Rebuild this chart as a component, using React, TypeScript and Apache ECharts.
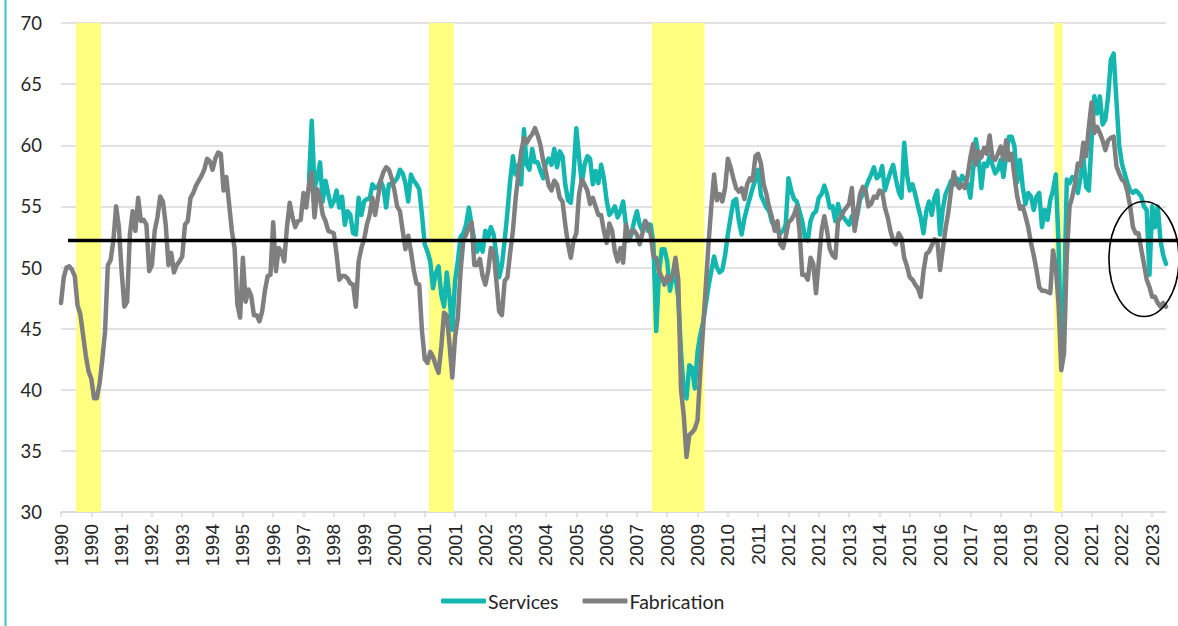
import React, { useEffect, useRef } from "react";
import * as echarts from "echarts";

// ---------- data ----------
const START_YEAR = 1990;
const MONTH_COUNT = 402; // Jan 1990 .. Jun 2023
const categories: string[] = Array.from(
  { length: MONTH_COUNT },
  (_, i) => `${START_YEAR + Math.floor(i / 12)}-${String((i % 12) + 1).padStart(2, "0")}`
);

const fabrication: number[] = [
  // 1990
  47.1, 49.2, 50.0, 50.1, 49.8, 49.3, 46.9, 46.2, 44.5, 42.8, 41.5, 40.9,
  // 1991
  39.3, 39.3, 40.5, 42.5, 44.8, 50.2, 50.6, 52.2, 55.0, 53.3, 49.7, 46.8,
  // 1992
  47.2, 52.7, 54.6, 53.0, 55.7, 53.8, 53.9, 53.5, 49.7, 50.2, 53.0, 54.1,
  // 1993
  55.8, 55.4, 53.5, 50.2, 51.2, 49.6, 50.2, 50.5, 50.9, 53.5, 53.8, 55.7,
  // 1994
  56.1, 56.7, 57.1, 57.5, 58.0, 58.9, 58.7, 58.0, 58.9, 59.4, 59.3, 56.3,
  // 1995
  57.4, 55.2, 53.0, 51.6, 47.0, 45.9, 50.8, 47.2, 48.2, 47.7, 46.1, 46.1,
  // 1996
  45.6, 46.4, 48.1, 49.3, 49.4, 53.7, 49.7, 51.6, 51.3, 50.5, 53.3, 55.3,
  // 1997
  54.1, 53.3, 53.8, 53.9, 56.1, 54.9, 56.8, 57.8, 54.1, 56.4, 55.7, 54.3,
  // 1998
  53.8, 53.0, 52.9, 52.8, 51.1, 49.0, 49.3, 49.3, 49.1, 48.7, 48.6, 46.8,
  // 1999
  50.5, 51.6, 52.3, 53.5, 54.3, 55.7, 54.3, 55.7, 57.1, 57.8, 58.2, 58.0,
  // 2000
  57.3, 56.3, 55.0, 54.6, 53.0, 51.5, 52.6, 51.3, 49.8, 48.7, 48.6, 44.8,
  // 2001
  42.5, 42.2, 43.1, 42.7, 42.0, 41.4, 43.5, 46.3, 46.1, 43.7, 41.0, 44.3,
  // 2002
  45.9, 49.7, 52.2, 52.7, 53.3, 53.7, 50.2, 50.2, 50.7, 49.3, 48.6, 49.7,
  // 2003
  51.6, 51.3, 48.9, 46.4, 46.1, 48.9, 49.2, 51.2, 53.0, 55.7, 57.6, 59.5,
  // 2004
  60.6, 60.2, 60.6, 60.9, 61.4, 60.8, 60.0, 58.7, 57.8, 56.7, 56.3, 57.1,
  // 2005
  56.8, 55.7, 55.4, 53.5, 51.9, 50.8, 52.2, 52.8, 56.0, 57.2, 56.8, 56.3,
  // 2006
  55.2, 55.7, 55.0, 54.3, 54.3, 53.0, 52.0, 53.6, 53.0, 51.3, 50.5, 51.6,
  // 2007
  50.4, 53.5, 52.4, 53.0, 53.0, 52.7, 51.9, 52.8, 53.8, 53.5, 52.7, 50.9,
  // 2008
  50.8, 49.7, 49.2, 48.6, 49.3, 48.9, 49.4, 50.8, 49.0, 40.0, 37.9, 34.5,
  // 2009
  36.3, 36.5, 36.8, 37.5, 41.5, 45.0, 48.5, 52.0, 55.0, 57.6, 55.5, 56.0,
  // 2010
  55.4, 56.5, 58.9, 58.2, 57.3, 56.5, 56.2, 56.5, 55.6, 56.8, 57.3, 57.1,
  // 2011
  59.1, 59.3, 58.5, 56.8, 56.0, 54.9, 54.1, 53.0, 53.8, 51.9, 51.6, 52.5,
  // 2012
  53.7, 53.9, 54.3, 55.0, 53.0, 49.4, 49.4, 49.0, 50.8, 50.3, 47.9, 50.5,
  // 2013
  53.0, 54.2, 53.0, 51.5, 51.0, 50.8, 53.8, 54.1, 54.6, 54.9, 55.2, 56.5,
  // 2014
  53.0, 54.6, 56.0, 56.6, 56.3, 55.0, 55.2, 55.8, 55.7, 56.3, 56.2, 54.9,
  // 2015
  54.1, 53.0, 52.2, 51.9, 52.8, 52.4, 50.8, 50.1, 49.2, 49.0, 48.6, 48.3,
  // 2016
  47.6, 49.7, 51.1, 51.3, 51.8, 52.3, 52.2, 49.8, 51.5, 53.2, 54.5, 56.3,
  // 2017
  57.8, 56.8, 56.5, 56.8, 56.5, 57.5, 59.0, 60.1, 58.4, 59.5, 59.0, 59.8,
  // 2018
  59.3, 60.8, 59.0, 58.8, 59.3, 59.9, 58.8, 60.4, 58.8, 59.3, 57.5, 55.8,
  // 2019
  54.8, 55.0, 54.2, 53.3, 52.0, 51.0, 49.8, 48.4, 48.1, 48.1, 48.0, 47.9,
  // 2020
  51.4, 50.1, 47.0, 41.6, 43.0, 51.0, 55.0, 55.8, 56.9, 58.5, 58.3, 60.2,
  // 2021
  59.1, 61.5, 63.5, 61.0, 61.5, 61.0, 60.4, 59.6, 60.4, 60.6, 60.7, 58.3,
  // 2022
  57.7, 57.2, 57.0, 56.2, 55.0, 53.3, 52.8, 52.8, 51.5, 50.3, 49.0, 48.4,
  // 2023
  47.6, 47.6, 47.1, 46.8, 47.1, 46.8,
];

const servicesStart = "1997-07";
const services: number[] = [
  // 1997 (Jul-Dec)
  57.1, 62.0, 56.5, 57.3, 58.6, 55.4,
  // 1998
  57.1, 56.0, 55.0, 55.4, 56.3, 54.9, 55.8, 53.5, 54.6, 54.3, 52.8, 52.7,
  // 1999
  55.7, 54.3, 55.4, 55.6, 55.6, 56.8, 56.5, 56.6, 57.1, 56.5, 54.9, 56.8,
  // 2000
  56.8, 57.0, 57.3, 58.0, 57.7, 56.9, 55.4, 57.6, 57.1, 56.8, 56.4, 54.3,
  // 2001
  51.9, 51.3, 50.5, 48.3, 49.5, 50.1, 47.8, 46.8, 49.6, 47.5, 44.9, 48.9,
  // 2002
  50.5, 52.5, 52.8, 53.5, 54.9, 53.5, 52.2, 51.3, 52.0, 51.3, 53.0, 52.4,
  // 2003
  53.3, 52.7, 51.0, 49.2, 50.2, 52.2, 54.5, 57.1, 59.1, 57.6, 58.4, 56.8,
  // 2004
  61.3, 58.4, 58.0, 59.7, 58.6, 58.6, 57.9, 57.3, 58.6, 58.9, 58.4, 59.7,
  // 2005
  58.2, 59.5, 59.1, 56.8, 55.5, 55.3, 57.6, 61.4, 59.0, 56.9, 58.4, 59.1,
  // 2006
  58.9, 56.8, 57.9, 56.9, 58.4, 57.3, 55.5, 54.3, 54.6, 55.0, 54.1, 54.6,
  // 2007
  55.4, 53.5, 52.2, 52.7, 53.8, 54.6, 53.5, 53.0, 53.8, 53.0, 53.5, 51.9,
  // 2008
  44.8, 49.5, 51.5, 51.5, 50.5, 48.1, 49.4, 49.2, 47.5, 43.1, 39.9, 39.3,
  // 2009
  42.0, 41.8, 40.1, 43.1, 44.5, 45.5, 47.0, 48.5, 49.7, 50.9, 50.0, 49.6,
  // 2010
  49.8, 51.0, 52.7, 54.1, 55.4, 55.6, 53.8, 52.7, 54.0, 54.9, 55.7, 56.5,
  // 2011
  57.2, 58.0, 55.9, 55.4, 54.9, 54.6, 53.7, 53.4, 53.0, 52.8, 53.0, 53.5,
  // 2012
  57.3, 56.3, 55.6, 55.4, 54.6, 53.8, 52.4, 52.2, 53.8, 54.4, 54.6, 55.7,
  // 2013
  56.0, 56.7, 56.0, 54.9, 55.0, 53.8, 55.2, 54.3, 54.1, 53.8, 53.5, 54.2,
  // 2014
  53.3, 54.3, 55.6, 56.0, 56.5, 57.1, 57.6, 58.2, 57.3, 57.5, 58.3, 56.3,
  // 2015
  57.1, 57.8, 58.4, 57.2, 56.2, 55.7, 60.2, 57.6, 56.3, 56.8, 56.0, 55.0,
  // 2016
  54.1, 52.8, 54.6, 55.4, 54.3, 55.7, 56.3, 52.7, 54.8, 56.0, 56.5, 57.1,
  // 2017
  56.8, 57.3, 56.8, 57.5, 57.2, 56.8, 55.7, 58.0, 60.5, 59.0, 56.5, 58.5,
  // 2018
  58.3, 59.1, 58.4, 57.7, 58.0, 58.8, 57.4, 59.1, 60.7, 60.7, 59.9, 57.0,
  // 2019
  58.8, 56.6, 55.2, 56.1, 55.8, 54.7, 55.8, 56.1, 53.3, 54.7, 53.9, 55.5,
  // 2020
  56.3, 57.6, 52.0, 43.0, 47.0, 57.2, 56.9, 57.4, 57.2, 56.1, 57.4, 59.1,
  // 2021
  56.6, 56.3, 60.4, 64.0, 62.6, 64.0, 61.7, 62.1, 64.0, 67.0, 67.5, 63.7,
  // 2022
  60.0, 58.5, 57.7, 56.9, 56.3, 56.1, 56.3, 56.1, 55.8, 55.0, 54.7, 49.4,
  // 2023
  55.0, 53.3, 55.0, 52.2, 51.0, 50.3,
];

const recessions: [string, string][] = [
  ["1990-07", "1991-03"],
  ["2001-03", "2001-11"],
  ["2007-12", "2009-06"],
  ["2020-02", "2020-04"],
];

const Y_MIN = 30;
const Y_MAX = 70;
const thresholdLevel = 52.2;
const thresholdFrom = "1990-03";
const circledPoint = { month: "2022-10", value: 50.7 };

const SERIES_NAMES = ["Services", "Fabrication"];
const TEAL = "#14B7AF";
const GRAY = "#7F7F7F";
const YELLOW = "#FFFF80";

export default function App() {
  const ref = useRef<HTMLDivElement>(null);

  useEffect(() => {
    if (!ref.current) return;
    const chart = echarts.init(ref.current, null, { renderer: "svg" });
    const offset = categories.indexOf(servicesStart);
    const servicesFull: (number | null)[] = categories.map((_, i) =>
      i >= offset && i - offset < services.length ? services[i - offset] : null
    );
    const recessionIdx = recessions.map(([a, b]) => [categories.indexOf(a), categories.indexOf(b)]);

    chart.setOption({
      animation: false,
      backgroundColor: "#ffffff",
      grid: { left: 61, right: 12, top: 23, bottom: 114, containLabel: false },
      legend: {
        data: SERIES_NAMES,
        bottom: 10,
        left: 436,
        icon: "roundRect",
        itemWidth: 45,
        itemHeight: 5,
        itemGap: 24,
        textStyle: { fontFamily: "Lato", fontSize: 19.5, color: "#262626", padding: [0, 0, 0, -3] },
      },
      xAxis: {
        type: "category",
        data: categories,
        boundaryGap: false,
        axisLine: { lineStyle: { color: "#D9D9D9", width: 1.5 } },
        axisTick: { show: true, interval: 10, length: 5, lineStyle: { color: "#D9D9D9", width: 1.5 } },
        axisLabel: {
          interval: 10,
          rotate: 90,
          margin: 12,
          fontFamily: "Liberation Sans",
          fontSize: 19,
          color: "#262626",
          formatter: (v: string) => v.slice(0, 4),
        },
        splitLine: { show: false },
      },
      yAxis: {
        type: "value",
        min: Y_MIN,
        max: Y_MAX,
        interval: 5,
        axisLine: { show: false },
        axisTick: { show: false },
        axisLabel: { margin: 19, fontFamily: "Lato", fontSize: 18.5, color: "#262626" },
        splitLine: { lineStyle: { color: "#D9D9D9", width: 1.5 } },
      },
      series: [
        {
          name: "recessions",
          type: "custom",
          z: 1,
          silent: true,
          clip: true,
          encode: { x: [0, 1] },
          data: recessionIdx,
          renderItem: (params: any, api: any) => {
            const s = api.coord([api.value(0), Y_MAX]);
            const e = api.coord([api.value(1), Y_MIN]);
            const half = api.size([1, 0])[0] / 2;
            return {
              type: "rect",
              shape: { x: s[0] - half, y: s[1], width: e[0] - s[0] + 2 * half, height: e[1] - s[1] },
              style: { fill: YELLOW },
            };
          },
        },
        {
          name: "Services",
          type: "line",
          data: servicesFull,
          z: 3,
          showSymbol: false,
          symbol: "none",
          connectNulls: false,
          itemStyle: { color: TEAL },
          lineStyle: { color: TEAL, width: 4.5, join: "round", cap: "round" },
        },
        {
          name: "Fabrication",
          type: "line",
          data: fabrication,
          z: 4,
          showSymbol: false,
          symbol: "none",
          itemStyle: { color: GRAY },
          lineStyle: { color: GRAY, width: 4.5, join: "round", cap: "round" },
        },
      ],
    });

    const width = chart.getWidth();
    const height = chart.getHeight();
    const x1 = chart.convertToPixel({ xAxisIndex: 0 }, thresholdFrom) as number;
    const yT = chart.convertToPixel({ yAxisIndex: 0 }, thresholdLevel) as number;
    const cx = chart.convertToPixel({ xAxisIndex: 0 }, circledPoint.month) as number;
    const cy = chart.convertToPixel({ yAxisIndex: 0 }, circledPoint.value) as number;

    chart.setOption({
      graphic: [
        {
          type: "line",
          z: 100,
          shape: { x1: 5.5, y1: 0, x2: 5.5, y2: height },
          style: { stroke: "#3CBFB8", lineWidth: 2 },
        },
        {
          type: "line",
          z: 100,
          shape: { x1: x1 + 1.5, y1: yT, x2: width, y2: yT },
          style: { stroke: "#000000", lineWidth: 3.5 },
        },
        {
          type: "ellipse",
          z: 100,
          shape: { cx, cy, rx: 35, ry: 57.5 },
          style: { fill: "none", stroke: "#000000", lineWidth: 1.6 },
        },
      ],
    });

    return () => chart.dispose();
  }, []);

  return (
    <div
      ref={ref}
      style={{ position: "fixed", left: 0, top: 0, width: 1178, height: 626, background: "#fff" }}
    />
  );
}
